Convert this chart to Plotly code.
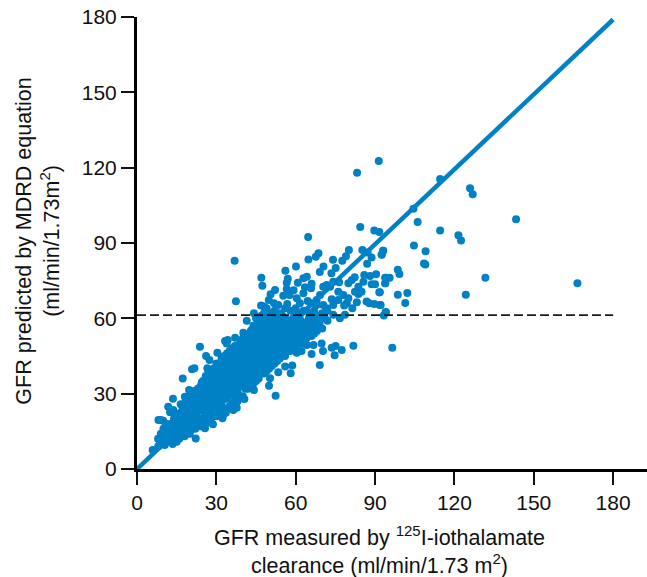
import plotly.graph_objects as go

BLUE = "#0081C6"
tick_values = [0, 30, 60, 90, 120, 150, 180]
identity_x = [0, 180]
identity_y = [0, 179]
cutoff_x = [0, 180]
cutoff_y = [61.3, 61.3]

scatter_x = [114.6,125.9,126.9,104.5,106.1,143.3,114.6,121.5,122.5,104.7,109.1,93.1,92.5,108.5,109,98.6,99.2,93.8,95.5,93.9,131.7,166.5,102.2,98.6,124.3,101.4,91.8,91.8,94,93.3,
91.4,83.2,84.4,89.7,91.6,64.7,36.9,37.4,47,47.4,56.1,60.1,64.8,67.6,68.6,70.5,69.1,74.1,77.6,79,80.1,85.2,87.2,93,92.5,88.7,87,75.1,73.5,57,56.6,64.2,62.9,60.8,66,52.2,50.5,56.6,59.2,55.3,57.7,63.5,65.8,62.9,49.8,46.9,48,51.8,53.4,56.8,60.4,61.6,64.5,67.9,69.2,71.7,70.4,73,74.2,76.4,79.9,81.2,82.3,85.9,88.1,90.4,94.1,93.8,85.6,88.7,90,83.7,82.4,84.9,83.7,91.6,79.9,79.3,78.3,81.4,83.1,86.8,87.8,89.7,92.1,94.1,76.1,73.6,74.2,70.4,71.7,67.9,66,78,76.1,78.6,44.2,74.2,76.7,
96.5,81.8,77.4,75.1,73.6,74.7,69.1,70.3,66,69.8,66.7,64.2,62.2,60.4,58.1,53.4,58.7,56,50.3,49.9,52.4,44.2,40.6,37.7,36.4,35.2,33.6,32.3,32.6,28.7,22.2,25.7,13.5,15,10.5,8.1,8.7,5.9,9,8.1,9.9,11.8,13.7,12.5,13.6,18.1,16.5,18.1,17.3,20.8,21.7,19.7,23.8,26.1,27.4,30.4,26.6,24.5,33.3,34.3,33.9,37.1,40.2,41.5,43.4]
scatter_y = [115.5,111.8,109.4,103.6,98.4,99.5,95,93.1,91,89,86.7,86.9,85.3,81.8,81.4,79.3,77.7,76.2,76.2,74,76.2,74,70.1,69.4,69.4,66.1,70.4,65.3,62.5,61.1,
122.7,118,96.4,95,94.4,92.4,82.9,66.8,76.2,73,78.9,80.6,83.4,84.5,85.9,80.6,78.5,83.3,82.9,84.7,87.2,87.2,86.2,86.9,85.4,84.2,81.7,80,78,75.8,74.2,76.6,76,74.2,73.8,71.3,69.6,71.7,71.2,69,69.3,72.4,72,70,67.3,65.1,64.7,66,65.3,65.7,68,66,66.9,67.3,69.3,73.3,72.6,72.6,74.6,74.4,74,75.3,76.4,77.3,76.9,77.6,76.2,74,74.6,73.6,73.6,72.6,70.6,70.6,69.7,70.4,68,66,65.1,64,66.4,66.7,66,65.7,65.3,62.4,67.3,67.6,65.3,65.3,64,65.3,66,69.3,70.6,61.4,62,61.4,60,
48.3,49.1,47.4,49,48.3,45.3,41.4,47,45.8,50,49.4,49.4,47,46.3,38.1,38.5,41.2,40.8,36.1,33.2,29.2,31.5,27.9,24.4,23.5,24.8,22.4,20.2,21.5,17.8,12.1,16.2,10,10.9,9.6,12,10.2,7.6,19.5,19.5,19.2,24.8,23.5,22.6,28,28.8,25.8,26.2,36,39.7,40.1,31.5,48.7,45,43.4,46.3,40.1,34.5,51,51.4,50,52.3,54.3,59,55.4]

band_x = [8,9,10,11,12,13,14,15,16,17,18,19,20,21,22,23,24,25,26,27,28,29,30,31,32,33,34,35,36,37,38,39,40,41,42,43,44,45,46,47,48,49,50,51,52,53,54,55,56,57,58,59,60,61,62,63,64,65,66,67,68,69,70,71,72]
band_y = [
 [9,12],
 [10,14],
 [10,13,16],
 [12,15,18],
 [11,14,17],
 [12,15,18],
 [11,14,17,20],
 [13,16,19,22],
 [12,15,18,21],
 [14,17,20,23],
 [13,16,19,22,25],
 [15,18,21,24,27],
 [14,17,20,23,26,29],
 [16,19,22,25,28,31],
 [16,19,22,25,28,31],
 [17,20,23,26,29,32],
 [17,20,24,27,30,33],
 [18,20,23,26,29,32,35],
 [18,22,25,28,31,34,37],
 [20,24,27,30,33,36,39],
 [20,23,26,29,32,35,38],
 [21,25,28,31,34,37,40],
 [21,25,28,31,34,37,40,42],
 [23,27,30,33,36,39,42],
 [22,26,29,32,35,38,41,44],
 [24,28,31,34,37,40,43,45],
 [24,28,31,34,37,40,43,46],
 [25,30,33,36,39,42,45,47],
 [26,30,33,36,39,42,45,48],
 [28,32,35,38,41,44,47,49],
 [27,31,34,37,40,43,46,49],
 [29,33,36,39,42,45,48,51],
 [29,34,37,40,43,46,49,52],
 [32,36,39,42,45,48,51,53],
 [32,35,38,41,44,47,50,53],
 [34,37,40,43,46,49,52,55],
 [34,37,40,43,46,49,52,55,57],
 [35,38,41,44,47,50,53,56,60],
 [36,39,42,45,48,51,54,57,59],
 [38,41,44,47,50,53,56,59,61],
 [38,41,44,47,50,53,56,59,62],
 [39,42,45,48,51,54,57,60,64],
 [40,43,46,49,52,55,58,60],
 [41,44,47,50,53,56,59,62],
 [42,45,48,51,54,57,60,63],
 [43,46,49,52,55,58,60],
 [44,47,50,53,56,59,62],
 [46,49,52,55,58,61],
 [45,48,51,54,57,60,64],
 [47,50,53,56,59],
 [47,50,53,56,59,63],
 [48,51,54,57,60],
 [49,52,55,58,61,64],
 [50,53,56,59],
 [50,53,56,59,62],
 [52,55,58,63],
 [52,55,58,63],
 [53,57,60],
 [53,56,59,62],
 [54,57,63],
 [55,60],
 [58,61],
 [56,62],
 [60],
 [59,63],
]
dense_x = [x for x, ys in zip(band_x, band_y) for _ in ys]
dense_y = [y for ys in band_y for y in ys]

font = "Liberation Sans, Arial, sans-serif"
fig = go.Figure()
fig.add_trace(go.Scatter(x=dense_x + scatter_x, y=dense_y + scatter_y, mode="markers",
                         marker=dict(color=BLUE, size=8), cliponaxis=False))
fig.add_trace(go.Scatter(x=identity_x, y=identity_y, mode="lines",
                         line=dict(color=BLUE, width=4.5), cliponaxis=False))
fig.add_trace(go.Scatter(x=cutoff_x, y=cutoff_y, mode="lines",
                         line=dict(color="#1a1a1a", width=1.8, dash="9px,4px"), cliponaxis=False))

axis_common = dict(
    tickmode="array", tickvals=tick_values, ticktext=[str(v) for v in tick_values],
    ticks="outside", ticklen=13, tickwidth=2, tickcolor="#111",
    showgrid=False, zeroline=False, showline=True, linecolor="#000", linewidth=3,
    tickfont=dict(family=font, size=21, color="#111"),
)
title_font = dict(family=font, size=21.5, color="#111")
fig.update_layout(
    width=647, height=577, showlegend=False, paper_bgcolor="white", plot_bgcolor="white",
    margin=dict(l=137, r=0, t=17, b=108),
    font=dict(family=font, size=21, color="#111"),
    xaxis=dict(range=[0, 192.8], **axis_common),
    yaxis=dict(range=[0, 180], **axis_common),
    annotations=[
        dict(text="GFR measured by <sup>125</sup>I-iothalamate<br>clearance (ml/min/1.73 m<sup>2</sup>)",
             xref="paper", yref="paper", x=0.476, y=0, yshift=-81, showarrow=False,
             xanchor="center", yanchor="middle", font=title_font),
        dict(text="GFR predicted by MDRD equation<br>(ml/min/1.73m<sup>2</sup>)",
             xref="paper", yref="paper", x=0, y=0.503, xshift=-99, showarrow=False, textangle=-90,
             xanchor="center", yanchor="middle", font=title_font),
    ],
)
fig.write_html("out.html", config={"displayModeBar": False},
               post_script="document.body.style.margin='0';")
